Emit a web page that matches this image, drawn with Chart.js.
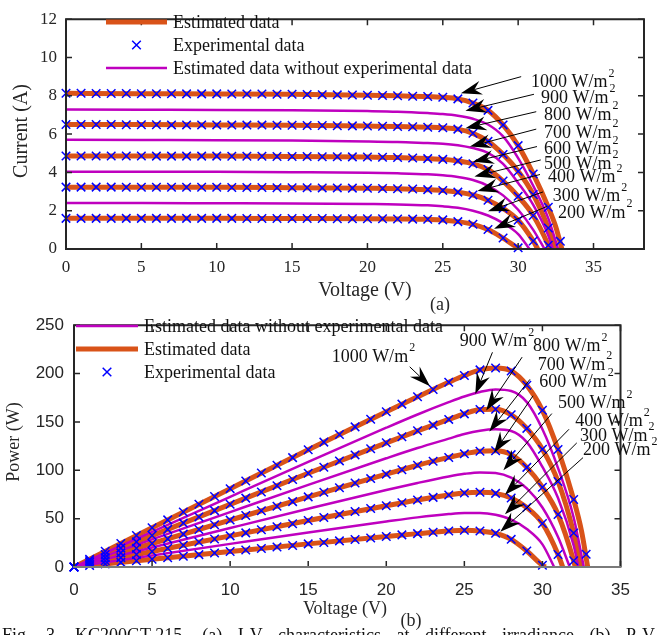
<!DOCTYPE html>
<html lang="en">
<head>
<meta charset="UTF-8">
<title>KC200GT I-V and P-V curves</title>
<script src="https://cdn.jsdelivr.net/npm/chart.js"></script>
<style>
  html, body { margin: 0; padding: 0; background: #fff; }
  body { width: 662px; height: 635px; position: relative; overflow: hidden;
         font-family: 'Liberation Serif', 'Times New Roman', serif; color: #262626; }
  .panel { position: absolute; left: 0; width: 662px; }
  #panelA { top: 0; height: 305px; }
  #panelB { top: 305px; height: 330px; }
  .tag { position: absolute; font-size: 18px; line-height: 18px; transform: translate(-50%, -50%); }
  #caption { position: absolute; left: 2px; top: 626px; white-space: nowrap; word-spacing: 11px;
             font-size: 18px; line-height: 18px; color: #111; }
</style>
</head>
<body>
<div class="panel" id="panelA"><canvas id="ivChart" width="662" height="305"></canvas></div>
<div class="panel" id="panelB"><canvas id="pvChart" width="662" height="330"></canvas></div>
<div class="tag" style="left:440px; top:304px;">(a)</div>
<div class="tag" style="left:411px; top:620px;">(b)</div>
<div id="caption">Fig. 3. KC200GT-215. (a) I-V characteristics at different irradiance (b) P-V characteristics at different irradiance.</div>

<script>
// irradiance levels (W/m2)
const irradiance = [1000, 900, 800, 700, 600, 500, 400, 300, 200];

// estimated curves: voltage (V), current (A), power (W)
const volt1000 = [0, 5, 10, 15, 20, 22, 24, 25, 26, 27, 28, 29, 30, 31, 32, 32.5, 32.9];
const cur1000  = [8.13, 8.11, 8.1, 8.08, 8.03, 8.0, 7.96, 7.92, 7.84, 7.62, 7.24, 6.48, 5.4, 3.92, 2.18, 1.15, 0];
const pow1000  = [0, 40.6, 81, 121.2, 160.6, 176, 191, 198, 203.8, 205.7, 202.7, 187.9, 162, 121.5, 69.8, 37.4, 0];

const volt900 = [0, 5, 10, 15, 20, 22, 24, 25, 26, 27, 28, 29, 30, 31, 32, 32.65];
const cur900  = [7.28, 7.27, 7.26, 7.24, 7.2, 7.17, 7.1, 7.05, 6.96, 6.8, 6.5, 5.88, 4.75, 3.3, 1.6, 0];
const pow900  = [0, 36.4, 72.6, 108.6, 144, 157.7, 170.4, 176.3, 181, 183.6, 182, 170.5, 142.5, 102.3, 51.2, 0];

const volt800 = [0, 5, 10, 15, 20, 22, 24, 25, 26, 27, 28, 29, 30, 31, 32, 32.45];
const cur800  = [6.5, 6.5, 6.48, 6.46, 6.42, 6.4, 6.36, 6.33, 6.26, 6.04, 5.62, 4.94, 4.06, 2.85, 1.1, 0];
const pow800  = [0, 32.5, 64.8, 96.9, 128.4, 140.8, 152.6, 158.3, 162.8, 163.1, 157.4, 143.3, 121.8, 88.4, 35.2, 0];

const volt700 = [0, 5, 10, 15, 20, 22, 24, 25, 26, 27, 28, 29, 30, 31, 32, 32.3];
const cur700  = [5.7, 5.69, 5.68, 5.66, 5.62, 5.59, 5.53, 5.5, 5.42, 5.27, 5.02, 4.45, 3.45, 2.3, 0.7, 0];
const pow700  = [0, 28.5, 56.8, 84.9, 112.4, 123, 132.7, 137.5, 140.9, 142.3, 140.6, 129.1, 103.5, 71.3, 22.4, 0];

const volt600 = [0, 5, 10, 15, 20, 22, 24, 25, 26, 27, 28, 29, 30, 31, 32, 32.1];
const cur600  = [4.86, 4.86, 4.85, 4.83, 4.8, 4.78, 4.72, 4.68, 4.6, 4.45, 4.15, 3.55, 2.75, 1.75, 0.2, 0];
const pow600  = [0, 24.3, 48.5, 72.5, 96, 105.2, 113.3, 117, 119.6, 120.2, 116.2, 103, 82.5, 54.3, 6.4, 0];

const volt500 = [0, 5, 10, 15, 20, 22, 24, 25, 26, 27, 28, 29, 30, 31, 31.75];
const cur500  = [4.04, 4.04, 4.03, 4.01, 3.98, 3.95, 3.9, 3.85, 3.76, 3.6, 3.3, 2.8, 2.05, 1.0, 0];
const pow500  = [0, 20.2, 40.3, 60.2, 79.6, 86.9, 93.6, 96.3, 97.8, 97.2, 92.4, 81.2, 61.5, 31, 0];

const volt400 = [0, 5, 10, 15, 20, 22, 24, 25, 26, 27, 28, 29, 30, 31, 31.3];
const cur400  = [3.23, 3.22, 3.22, 3.2, 3.17, 3.15, 3.1, 3.06, 2.97, 2.82, 2.55, 2.12, 1.5, 0.42, 0];
const pow400  = [0, 16.1, 32.2, 48, 63.4, 69.3, 74.4, 76.5, 77.2, 76.1, 71.4, 61.5, 45, 13, 0];

const volt300 = [0, 5, 10, 15, 20, 22, 24, 25, 26, 27, 28, 29, 30, 30.75];
const cur300  = [2.4, 2.4, 2.39, 2.38, 2.35, 2.33, 2.28, 2.23, 2.15, 2.0, 1.75, 1.35, 0.78, 0];
const pow300  = [0, 12, 23.9, 35.7, 47, 51.3, 54.7, 55.8, 55.9, 54, 49, 39.2, 23.4, 0];

const volt200 = [0, 5, 10, 15, 20, 22, 24, 25, 26, 27, 28, 29, 30, 30.2];
const cur200  = [1.6, 1.6, 1.6, 1.59, 1.58, 1.57, 1.55, 1.52, 1.43, 1.29, 1.02, 0.57, 0.06, 0];
const pow200  = [0, 8, 16, 23.9, 31.6, 34.5, 37.2, 38, 37.2, 34.8, 28.6, 16.5, 1.8, 0];

// experimental points (1 V steps)
const expVolt = [0, 1, 2, 3, 4, 5, 6, 7, 8, 9, 10, 11, 12, 13, 14, 15, 16, 17, 18, 19,
                 20, 21, 22, 23, 24, 25, 26, 27, 28, 29, 30, 31, 32, 32.8];
const expCur1000 = [8.13, 8.13, 8.12, 8.12, 8.12, 8.11, 8.11, 8.11, 8.1, 8.1, 8.1, 8.09, 8.09, 8.09, 8.08, 8.08, 8.07, 8.06, 8.05, 8.04,
                    8.03, 8.02, 8.0, 7.98, 7.96, 7.92, 7.84, 7.62, 7.24, 6.48, 5.4, 3.92, 2.18, 0.4];
const expPow1000 = [0, 8.1, 16.2, 24.4, 32.5, 40.6, 48.7, 56.8, 64.8, 72.9, 81, 89, 97.1, 105.2, 113.1, 121.2, 129.1, 137, 144.9, 152.8,
                    160.6, 168.4, 176, 183.5, 191, 198, 203.8, 205.7, 202.7, 187.9, 162, 121.5, 69.8, 13.1];
const expCur800 = [6.5, 6.5, 6.5, 6.5, 6.49, 6.49, 6.49, 6.48, 6.48, 6.48, 6.48, 6.47, 6.47, 6.47, 6.46, 6.46, 6.45, 6.45, 6.44, 6.43,
                   6.42, 6.41, 6.4, 6.38, 6.36, 6.33, 6.26, 6.04, 5.62, 4.94, 4.06, 2.85, 1.1];
const expPow800 = [0, 6.5, 13, 19.5, 26, 32.5, 38.9, 45.4, 51.8, 58.3, 64.8, 71.2, 77.6, 84.1, 90.4, 96.9, 103.2, 109.7, 115.9, 122.2,
                   128.4, 134.6, 140.8, 146.7, 152.6, 158.3, 162.8, 163.1, 157.4, 143.3, 121.8, 88.4, 35.2];
const expCur600 = [4.86, 4.86, 4.86, 4.86, 4.86, 4.86, 4.85, 4.85, 4.85, 4.85, 4.85, 4.84, 4.84, 4.84, 4.83, 4.83, 4.83, 4.82, 4.82, 4.81,
                   4.8, 4.79, 4.78, 4.75, 4.72, 4.68, 4.6, 4.45, 4.15, 3.55, 2.75, 1.75, 0.2];
const expPow600 = [0, 4.9, 9.7, 14.6, 19.4, 24.3, 29.1, 34, 38.8, 43.7, 48.5, 53.2, 58.1, 62.9, 67.6, 72.5, 77.3, 81.9, 86.8, 91.4,
                   96, 100.6, 105.2, 109.3, 113.3, 117, 119.6, 120.2, 116.2, 103, 82.5, 54.3, 6.4];
const expCur400 = [3.23, 3.23, 3.23, 3.23, 3.22, 3.22, 3.22, 3.22, 3.22, 3.22, 3.22, 3.21, 3.21, 3.21, 3.2, 3.2, 3.2, 3.19, 3.19, 3.18,
                   3.17, 3.16, 3.15, 3.13, 3.1, 3.06, 2.97, 2.82, 2.55, 2.12, 1.5, 0.42];
const expPow400 = [0, 3.2, 6.5, 9.7, 12.9, 16.1, 19.3, 22.5, 25.8, 29, 32.2, 35.3, 38.5, 41.7, 44.8, 48, 51.2, 54.2, 57.4, 60.4,
                   63.4, 66.4, 69.3, 72, 74.4, 76.5, 77.2, 76.1, 71.4, 61.5, 45, 13];
const expCur200 = [1.6, 1.6, 1.6, 1.6, 1.6, 1.6, 1.6, 1.6, 1.6, 1.6, 1.6, 1.6, 1.59, 1.59, 1.59, 1.59, 1.59, 1.59, 1.58, 1.58,
                   1.58, 1.58, 1.57, 1.56, 1.55, 1.52, 1.43, 1.29, 1.02, 0.57, 0.06];
const expPow200 = [0, 1.6, 3.2, 4.8, 6.4, 8, 9.6, 11.2, 12.8, 14.4, 16, 17.6, 19.1, 20.7, 22.3, 23.9, 25.4, 27, 28.4, 30,
                   31.6, 33.2, 34.5, 35.9, 37.2, 38, 37.2, 34.8, 28.6, 16.5, 1.8];

// annotation anchors in data units: [arrow tail, arrow tip, label left/middle]
const ivArrowTail = [[30.2, 9.0], [31.05, 8.08], [31.2, 7.17], [31.2, 6.26], [31.25, 5.35], [31.5, 4.65], [31.45, 3.89], [31.65, 2.98], [31.9, 2.22]];
const ivArrowTip  = [[26.2, 8.13], [26.5, 7.22], [26.5, 6.31], [26.8, 5.35], [27.0, 4.55], [27.1, 3.79], [27.3, 3.03], [28.0, 1.97], [28.4, 1.06]];
const ivLabelAt   = [[30.86, 8.69], [31.52, 7.88], [31.72, 7.0], [31.72, 6.06], [31.72, 5.2], [31.72, 4.44], [31.98, 3.74], [32.3, 2.73], [32.65, 1.87]];
const pvArrowTail = [[21.5, 207], [26.8, 222], [28.7, 217], [29.2, 194], [29.4, 177], [30.6, 158.6], [31.7, 142.4], [32.2, 128.3], [32.6, 113.1]];
const pvArrowTip  = [[22.8, 187], [25.7, 178.8], [26.4, 161.9], [26.6, 140.1], [26.9, 118.2], [27.5, 100], [27.6, 74.7], [27.6, 54.5], [27.3, 36.4]];
const pvLabelAt   = [[16.5, 217], [24.7, 233], [29.4, 228], [29.7, 209], [29.8, 191], [31.0, 169], [32.1, 150.5], [32.4, 135.4], [32.6, 120.2]];

const ORANGE = '#D95319', MAGENTA = '#BF00BF', BLUE = '#0000FF', INK = '#262626';
const SERIF = "'Liberation Serif', 'Times New Roman', serif";
const SANS = "'Liberation Sans', Arial, sans-serif";

const pts = (xs, ys) => ys.map((y, i) => ({ x: xs[i], y: y }));

function lineSet(xs, ys, color, width) {
  return { data: pts(xs, ys), borderColor: color, borderWidth: width, pointRadius: 0,
           cubicInterpolationMode: 'monotone', fill: false };
}
function crossSet(xs, ys) {
  return { data: pts(xs, ys), showLine: false, pointStyle: 'crossRot', pointRadius: 6,
           borderColor: BLUE, borderWidth: 1.5, clip: false };
}

function drawArrow(ctx, x1, y1, x2, y2) {
  const ang = Math.atan2(y2 - y1, x2 - x1);
  const L = 21, W = 7, notch = 7;
  ctx.beginPath();
  ctx.moveTo(x1, y1);
  ctx.lineTo(x2 - Math.cos(ang) * (L - notch), y2 - Math.sin(ang) * (L - notch));
  ctx.stroke();
  ctx.save();
  ctx.translate(x2, y2);
  ctx.rotate(ang);
  ctx.beginPath();
  ctx.moveTo(0, 0);
  ctx.lineTo(-L, -W);
  ctx.lineTo(-L + notch, 0);
  ctx.lineTo(-L, W);
  ctx.closePath();
  ctx.fill();
  ctx.restore();
}

function drawIrrLabel(ctx, text, x, y) {
  ctx.font = '18px ' + SERIF;
  ctx.textAlign = 'left';
  ctx.textBaseline = 'middle';
  ctx.fillText(text + ' W/m', x, y);
  const w = ctx.measureText(text + ' W/m').width;
  ctx.font = '12px ' + SERIF;
  ctx.fillText('2', x + w + 1, y - 9);
}

function makeFrame(cfg) {
  return {
    id: 'frame',
    afterDraw(chart) {
      const { ctx, chartArea: a, scales: { x, y } } = chart;
      ctx.save();
      // inward ticks on all four sides
      ctx.strokeStyle = INK;
      ctx.lineWidth = 1.5;
      ctx.beginPath();
      x.ticks.forEach(t => {
        const p = x.getPixelForValue(t.value);
        ctx.moveTo(p, a.bottom); ctx.lineTo(p, a.bottom - 6);
        ctx.moveTo(p, a.top); ctx.lineTo(p, a.top + 6);
      });
      y.ticks.forEach(t => {
        const p = y.getPixelForValue(t.value);
        ctx.moveTo(a.left, p); ctx.lineTo(a.left + 6, p);
        ctx.moveTo(a.right, p); ctx.lineTo(a.right - 6, p);
      });
      ctx.stroke();
      // axes box
      ctx.lineWidth = 2;
      ctx.beginPath();
      ctx.moveTo(a.left, a.bottom); ctx.lineTo(a.left, a.top);
      ctx.lineTo(a.right, a.top); ctx.lineTo(a.right, a.bottom);
      ctx.stroke();
      ctx.strokeStyle = cfg.bottomColor;
      ctx.beginPath(); ctx.moveTo(a.left - 1, a.bottom); ctx.lineTo(a.right + 1, a.bottom); ctx.stroke();

      // axis titles
      ctx.fillStyle = INK;
      ctx.font = cfg.titleSize + 'px ' + SERIF;
      ctx.textAlign = 'center';
      ctx.textBaseline = 'middle';
      ctx.fillText(cfg.xTitle, cfg.xTitlePos[0], cfg.xTitlePos[1]);
      ctx.save();
      ctx.translate(cfg.yTitlePos[0], cfg.yTitlePos[1]);
      ctx.rotate(-Math.PI / 2);
      ctx.fillText(cfg.yTitle, 0, 0);
      ctx.restore();

      // legend
      const lg = cfg.legend;
      ctx.font = '18px ' + SERIF;
      ctx.textAlign = 'left';
      lg.rows.forEach((row, i) => {
        const ly = lg.y[i];
        if (row.kind === 'cross') {
          const cx = (lg.x0 + lg.x1) / 2, r = 4.3;
          ctx.strokeStyle = BLUE; ctx.lineWidth = 1.5;
          ctx.beginPath();
          ctx.moveTo(cx - r, ly - r); ctx.lineTo(cx + r, ly + r);
          ctx.moveTo(cx - r, ly + r); ctx.lineTo(cx + r, ly - r);
          ctx.stroke();
        } else {
          ctx.strokeStyle = row.color; ctx.lineWidth = row.width;
          ctx.beginPath(); ctx.moveTo(lg.x0, ly); ctx.lineTo(lg.x1, ly); ctx.stroke();
        }
        ctx.fillStyle = '#111';
        ctx.fillText(row.label, lg.text, ly + 1);
      });

      // irradiance arrows and labels
      ctx.strokeStyle = '#000';
      ctx.fillStyle = '#000';
      ctx.lineWidth = 1;
      irradiance.forEach((g, i) => {
        const t = cfg.tails[i], h = cfg.tips[i], l = cfg.labels[i];
        drawArrow(ctx, x.getPixelForValue(t[0]), y.getPixelForValue(t[1]),
                  x.getPixelForValue(h[0]), y.getPixelForValue(h[1]));
        ctx.fillStyle = '#111';
        drawIrrLabel(ctx, String(g), x.getPixelForValue(l[0]), y.getPixelForValue(l[1]));
        ctx.fillStyle = '#000';
      });
      ctx.restore();
    }
  };
}

function xAxis(max, family, pad, height) {
  return {
    type: 'linear', min: 0, max: max,
    grid: { display: false, drawTicks: false },
    border: { display: false },
    ticks: { stepSize: 5, includeBounds: false, autoSkip: false, maxRotation: 0, padding: pad,
             color: INK, font: { family: family, size: 17 } },
    afterFit: s => { s.height = height; }
  };
}
function yAxis(max, step, family, pad, width) {
  return {
    type: 'linear', min: 0, max: max,
    grid: { display: false, drawTicks: false },
    border: { display: false },
    ticks: { stepSize: step, autoSkip: false, padding: pad, color: INK, font: { family: family, size: 17 } },
    afterFit: s => { s.width = width; }
  };
}

const baseOptions = {
  responsive: false,
  devicePixelRatio: 1,
  animation: false,
  events: [],
  plugins: { legend: { display: false }, tooltip: { enabled: false } }
};

// (a) I-V characteristics
new Chart(document.getElementById('ivChart'), {
  type: 'line',
  data: {
    datasets: [
      crossSet(expVolt, expCur1000), crossSet(expVolt, expCur800), crossSet(expVolt, expCur600),
      crossSet(expVolt, expCur400), crossSet(expVolt, expCur200),
      lineSet(volt900, cur900, MAGENTA, 2.5), lineSet(volt700, cur700, MAGENTA, 2.5),
      lineSet(volt500, cur500, MAGENTA, 2.5), lineSet(volt300, cur300, MAGENTA, 2.5),
      lineSet(volt1000, cur1000, ORANGE, 5), lineSet(volt800, cur800, ORANGE, 5),
      lineSet(volt600, cur600, ORANGE, 5), lineSet(volt400, cur400, ORANGE, 5),
      lineSet(volt200, cur200, ORANGE, 5)
    ]
  },
  options: Object.assign({}, baseOptions, {
    layout: { padding: { top: 11, right: 18, left: 0, bottom: 0 } },
    scales: { x: xAxis(38.35, SERIF, 8, 56), y: yAxis(12, 2, SERIF, 9, 66) }
  }),
  plugins: [makeFrame({
    bottomColor: INK, titleSize: 20,
    xTitle: 'Voltage (V)', xTitlePos: [365, 291],
    yTitle: 'Current (A)', yTitlePos: [22, 131],
    legend: { x0: 106, x1: 167, text: 173, y: [22, 45, 68], rows: [
      { kind: 'line', color: ORANGE, width: 5, label: 'Estimated data' },
      { kind: 'cross', label: 'Experimental data' },
      { kind: 'line', color: MAGENTA, width: 2.5, label: 'Estimated data without experimental data' }
    ] },
    tails: ivArrowTail, tips: ivArrowTip, labels: ivLabelAt
  })]
});

// (b) P-V characteristics
new Chart(document.getElementById('pvChart'), {
  type: 'line',
  data: {
    datasets: [
      crossSet(expVolt, expPow1000), crossSet(expVolt, expPow800), crossSet(expVolt, expPow600),
      crossSet(expVolt, expPow400), crossSet(expVolt, expPow200),
      lineSet(volt900, pow900, MAGENTA, 2.5), lineSet(volt700, pow700, MAGENTA, 2.5),
      lineSet(volt500, pow500, MAGENTA, 2.5), lineSet(volt300, pow300, MAGENTA, 2.5),
      lineSet(volt1000, pow1000, ORANGE, 5), lineSet(volt800, pow800, ORANGE, 5),
      lineSet(volt600, pow600, ORANGE, 5), lineSet(volt400, pow400, ORANGE, 5),
      lineSet(volt200, pow200, ORANGE, 5)
    ]
  },
  options: Object.assign({}, baseOptions, {
    layout: { padding: { top: 14, right: 41.5, left: 0, bottom: 0 } },
    scales: { x: xAxis(35, SANS, 13, 68), y: yAxis(250, 50, SANS, 10, 74) }
  }),
  plugins: [makeFrame({
    bottomColor: '#7a7a7a', titleSize: 18,
    xTitle: 'Voltage (V)', xTitlePos: [345, 304],
    yTitle: 'Power (W)', yTitlePos: [14, 137],
    legend: { x0: 76, x1: 138, text: 144, y: [21, 44, 67], rows: [
      { kind: 'line', color: MAGENTA, width: 2.5, label: 'Estimated data without experimental data' },
      { kind: 'line', color: ORANGE, width: 5, label: 'Estimated data' },
      { kind: 'cross', label: 'Experimental data' }
    ] },
    tails: pvArrowTail, tips: pvArrowTip, labels: pvLabelAt
  })]
});
</script>
</body>
</html>
